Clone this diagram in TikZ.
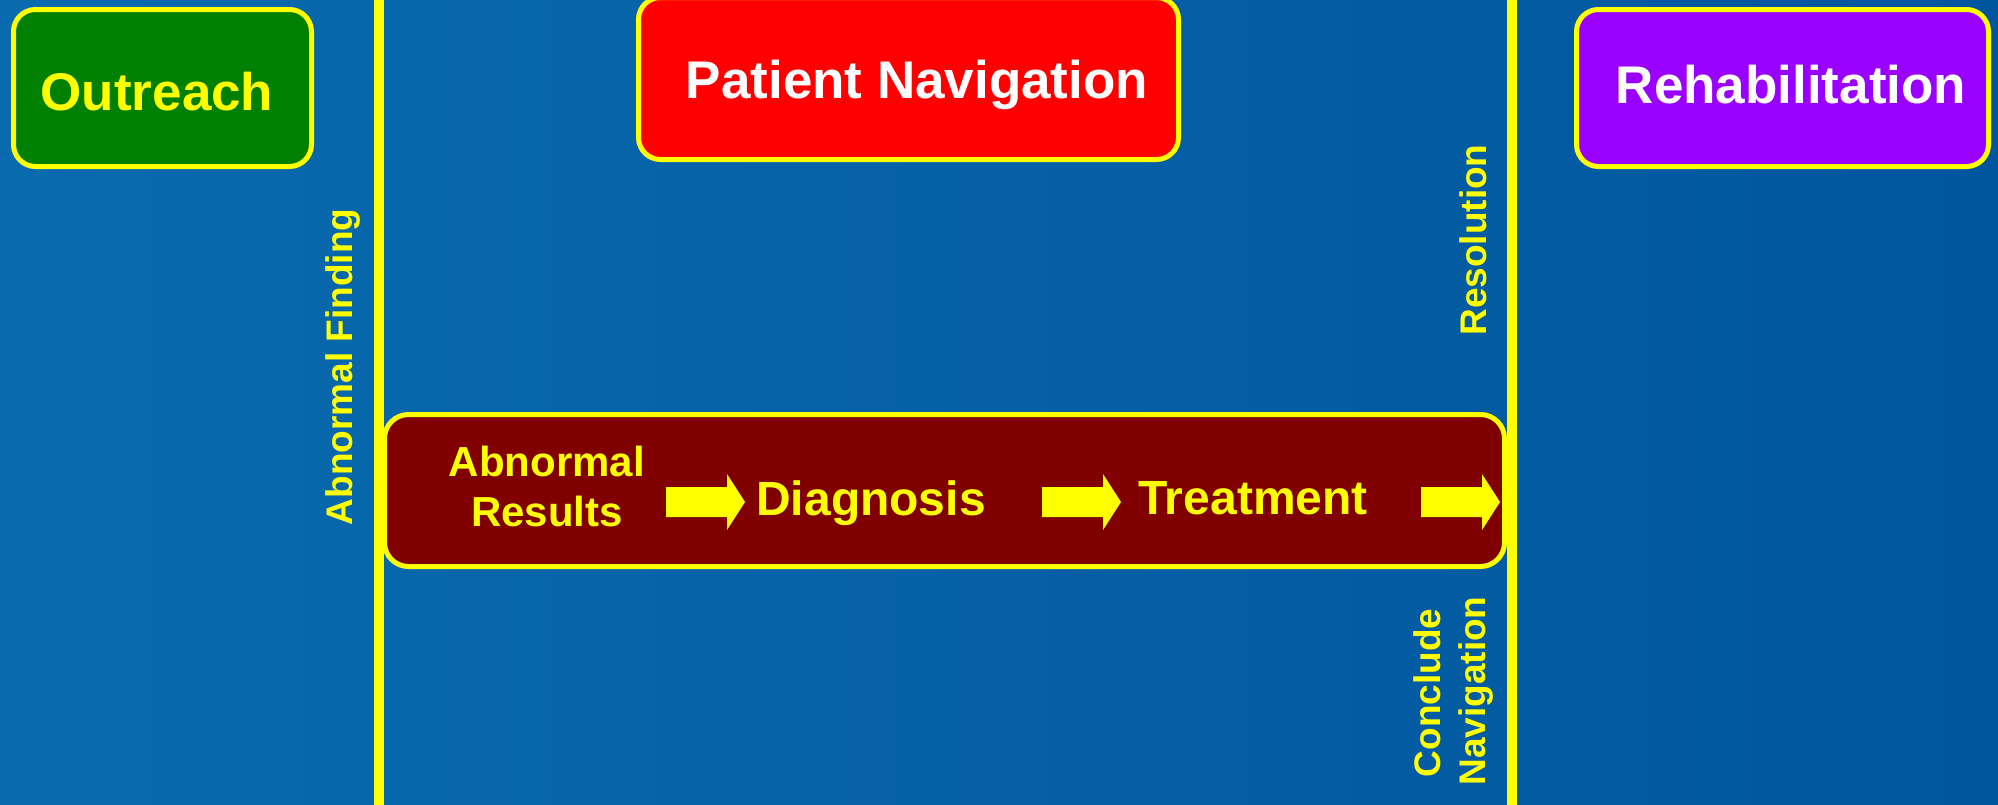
\documentclass[tikz,border=0pt]{standalone}
\usepackage{fontspec}
\setmainfont{Liberation Sans}
\definecolor{bgblue}{RGB}{10,106,174}
\definecolor{bgdark}{RGB}{0,86,158}
\definecolor{ylw}{RGB}{255,255,0}
\definecolor{grn}{RGB}{0,128,0}
\definecolor{redbox}{RGB}{255,0,0}
\definecolor{purp}{RGB}{153,0,255}
\definecolor{maroon}{RGB}{128,0,0}
\tikzset{
  divider/.style={draw=ylw, line width=5pt},
  box/.style={draw=ylw, line width=2.5pt, rounded corners=11pt, inner sep=0pt},
  biglbl/.style={font=\bfseries\fontsize{26.5}{30}\selectfont, inner sep=0pt, anchor=base},
  midlbl/.style={font=\bfseries\fontsize{24}{28}\selectfont, inner sep=0pt, anchor=base, text=ylw},
  smalllbl/.style={font=\bfseries\fontsize{21}{25}\selectfont, inner sep=0pt, align=center, text=ylw},
  sidelbl/.style={font=\bfseries\fontsize{18.5}{22.5}\selectfont, inner sep=0pt, anchor=base, rotate=90, text=ylw},
  blockarrow/.pic={\fill[ylw] (0,-15) -- (61,-15) -- (61,-28) -- (79,0) -- (61,28) -- (61,15) -- (0,15) -- cycle;}
}
\begin{document}
\begin{tikzpicture}[x=0.5pt,y=-0.5pt]
\shade[left color=bgblue, right color=bgdark] (0,0) rectangle (1998,804);
\useasboundingbox (0,0) rectangle (1998,804);

% dividers
\coordinate (LT) at (378.5,-10);
\coordinate (LB) at (378.5,814);
\coordinate (RT) at (1511.5,-10);
\coordinate (RB) at (1511.5,814);
\draw[divider] (LT) -- (LB);
\draw[divider] (RT) -- (RB);

% top boxes
\node[box, fill=grn, minimum width=149pt, minimum height=78.5pt] (outreach) at (162.5,88) {};
\node[biglbl, text=ylw] (outreachT) at (157,110) {Outreach};

\node[box, fill=redbox, minimum width=270pt, minimum height=81pt] (patnav) at (908.5,78.5) {};
\node[biglbl, text=white] (patnavT) at (917,98) {Patient Navigation};

\node[box, fill=purp, minimum width=206pt, minimum height=78.5pt] (rehab) at (1782.5,88) {};
\node[biglbl, text=white] (rehabT) at (1791,103) {Rehabilitation};

% process box
\node[box, fill=maroon, rounded corners=12pt, minimum width=560pt, minimum height=76pt] (process) at (944.5,490.5) {};
\node[smalllbl] (abres) at (547,486.5) {Abnormal\\Results};
\node[midlbl] (diag) at (871,515) {Diagnosis};
\node[midlbl] (treat) at (1253,514) {Treatment};
\pic at (666,502) {blockarrow};
\pic at (1042,502) {blockarrow};
\pic at (1421,502) {blockarrow};

% side labels
\node[sidelbl] (abfind) at (352,367) {Abnormal Finding};
\node[sidelbl] (resol) at (1486,240) {Resolution};
\node[sidelbl] (concl) at (1440,693) {Conclude};
\node[sidelbl] (navig) at (1485,691) {Navigation};
\end{tikzpicture}
\end{document}
